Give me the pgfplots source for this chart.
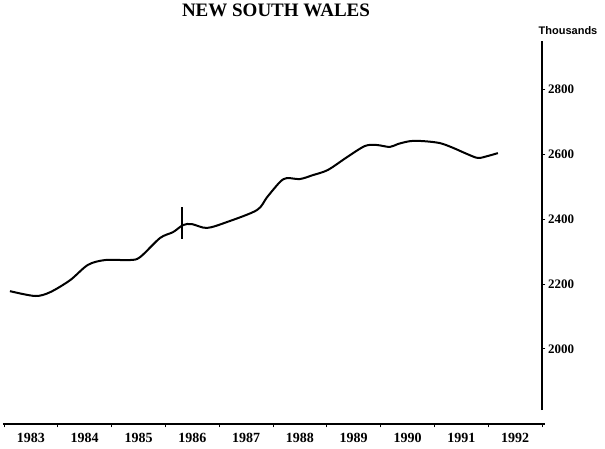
\documentclass[border=0pt]{standalone}
\usepackage{fontspec}
\setmainfont{Liberation Serif}
\newfontfamily\sansfam{Liberation Sans}
\usepackage{pgfplots}
\pgfplotsset{compat=1.18}
\begin{document}
\begin{tikzpicture}
\begin{axis}[
  scale only axis, width=538pt, height=383pt,
  xmin=1983, xmax=1993, ymin=1768, ymax=2950,
  axis x line*=bottom, axis y line*=right,
  y axis line style={draw=none},
  x axis line style={line width=1.2pt, shorten <=-1pt, shorten >=-3pt},
  xtick={1983,...,1993}, xticklabels={},
  extra x ticks={1983.5,1984.5,1985.5,1986.5,1987.5,1988.5,1989.5,1990.5,1991.5,1992.5},
  extra x tick labels={1983,1984,1985,1986,1987,1988,1989,1990,1991,1992},
  extra x tick style={major tick length=0pt, xticklabel style={yshift=-6pt}},
  ytick={2000,2200,...,2800},
  yticklabel pos=right,
  tick align=outside, major tick length=3.5pt,
  tick style={black, line width=0.9pt},
  /pgf/number format/assume math mode=true,
  /pgf/number format/1000 sep={},
  xticklabel style={font=\bfseries\fontsize{14}{15}\selectfont},
  yticklabel style={font=\bfseries\fontsize{13}{14}\selectfont, xshift=-1pt},
  clip=false,
]
\addplot[black, line width=2pt, smooth, tension=0.5] coordinates {
(1983.11,2178) (1983.58,2163) (1983.86,2175) (1984.23,2212) (1984.56,2259)
(1984.88,2274) (1985.34,2274) (1985.53,2283) (1985.90,2342) (1986.14,2360)
(1986.33,2382) (1986.49,2385) (1986.77,2373) (1987.14,2391) (1987.70,2428)
(1987.89,2468) (1988.13,2515) (1988.26,2527) (1988.50,2524) (1988.74,2536)
(1989.02,2552) (1989.38,2592) (1989.71,2626) (1989.93,2629) (1990.17,2623)
(1990.32,2632) (1990.55,2641) (1990.79,2641) (1991.10,2635) (1991.35,2620)
(1991.61,2601) (1991.81,2589) (1991.99,2595) (1992.18,2604)
};
\draw[line width=1.2pt] (axis cs:1993,1811) -- (axis cs:1993,2950);
\draw[line width=1.2pt] (axis cs:1986.31,2340) -- (axis cs:1986.31,2437);
\coordinate (LL) at (rel axis cs:0,0);
\end{axis}
\pgfresetboundingbox
\path (LL) ++(-4pt,-25pt) rectangle ++(605pt,449pt);
\node[anchor=base, inner sep=0pt, font=\bfseries\fontsize{19}{20}\selectfont] at ([shift={(272pt,407pt)}]LL) {NEW SOUTH WALES};
\node[anchor=base, inner sep=0pt, font=\sansfam\bfseries\fontsize{11}{12}\selectfont] at ([shift={(564pt,389pt)}]LL) {Thousands};
\end{tikzpicture}
\end{document}
